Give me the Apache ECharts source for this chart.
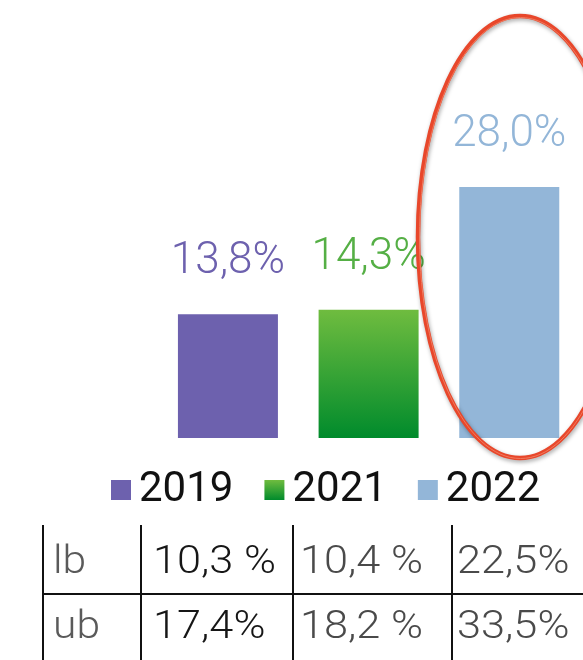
<!DOCTYPE html>
<html>
<head>
<meta charset="utf-8">
<script src="https://cdn.jsdelivr.net/npm/echarts@6/dist/echarts.min.js"></script>
<style>
  html, body { margin: 0; padding: 0; background: #fff; }
  #chart { width: 583px; height: 660px; }
</style>
</head>
<body>
<div id="chart"></div>
<script>
// Share per survey year
const years = ['2019', '2021', '2022'];
const shares = [13.8, 14.3, 28.0];

// Confidence bounds shown in the table under the chart
const rowNames = ['lb', 'ub'];
const lowerBounds = ['10,3 %', '10,4 %', '22,5%'];
const upperBounds = ['17,4%', '18,2 %', '33,5%'];

const barColors = [
  '#6D61AE',
  { type: 'linear', x: 0, y: 0, x2: 0, y2: 1,
    colorStops: [{ offset: 0, color: '#6FBC3F' }, { offset: 1, color: '#008B2C' }] },
  '#93B6D8'
];
const labelColors = ['#6D61AE', '#55AF45', '#93B6D8'];

const chart = echarts.init(document.getElementById('chart'), null, { renderer: 'canvas' });

const fmt = v => v.toFixed(1).replace('.', ',') + '%';

const series = years.map((year, i) => ({
  name: year,
  type: 'bar',
  barWidth: 100,
  barGap: '-100%',
  data: shares.map((v, j) => (j === i ? v : '-')),
  itemStyle: { color: barColors[i] },
  label: {
    show: true,
    position: 'top',
    distance: 30,
    formatter: p => fmt(p.value),
    color: labelColors[i],
    fontFamily: 'Roboto',
    fontWeight: 300,
    fontSize: 44
  }
}));

// Table cells
const colX = [43, 141, 293, 452];
const textX = [53, 153, 300, 457];
const rowY = [563, 628];
const valueColors = ['#161616', '#4a4a4a', '#4a4a4a'];
const cellFont = { fontFamily: 'Roboto', fontWeight: 300, fontSize: 38, verticalAlign: 'middle' };
const tableEls = [];
colX.forEach(x => {
  tableEls.push({ type: 'line', shape: { x1: x, y1: 525, x2: x, y2: 660 },
    style: { stroke: '#111', lineWidth: 2 } });
});
tableEls.push({ type: 'line', shape: { x1: 42, y1: 594, x2: 583, y2: 594 },
  style: { stroke: '#111', lineWidth: 2 } });
[lowerBounds, upperBounds].forEach((row, r) => {
  tableEls.push({ type: 'text', x: textX[0], y: rowY[r], scaleX: 1.12,
    style: Object.assign({ x: 0, y: 0, text: rowNames[r], fill: '#5a5a5a' }, cellFont) });
  row.forEach((t, c) => {
    tableEls.push({ type: 'text', x: textX[c + 1], y: rowY[r], scaleX: 1.14,
      style: Object.assign({ x: 0, y: 0, text: t, fill: valueColors[c] }, cellFont) });
  });
});

// Hand-drawn highlight ring around the 2022 bar
const ring = [
  { type: 'ellipse', z: 100, shape: { cx: 520, cy: 237, rx: 102, ry: 221 },
    style: { fill: null, stroke: '#E8472B', lineWidth: 4.5,
      shadowColor: 'rgba(0,0,0,0.35)', shadowBlur: 4, shadowOffsetX: 1, shadowOffsetY: 2 } },
  { type: 'ellipse', z: 101, shape: { cx: 520.5, cy: 238, rx: 101, ry: 220.5 },
    style: { fill: null, stroke: '#F07A5E', lineWidth: 1 } }
];

chart.setOption({
  animation: false,
  grid: { left: 157.6, right: 3.4, top: 169, bottom: 222 },
  xAxis: { type: 'category', data: years, show: false },
  yAxis: { type: 'value', min: 0, max: 30, show: false },
  legend: {
    data: years,
    left: 111,
    top: 469,
    padding: 0,
    icon: 'rect',
    itemWidth: 20,
    itemHeight: 20,
    itemGap: 31,
    textStyle: { fontFamily: 'Roboto', fontSize: 42, color: '#111', padding: [0, 0, 0, 3] }
  },
  series: series,
  graphic: tableEls.concat(ring)
});
</script>
</body>
</html>
